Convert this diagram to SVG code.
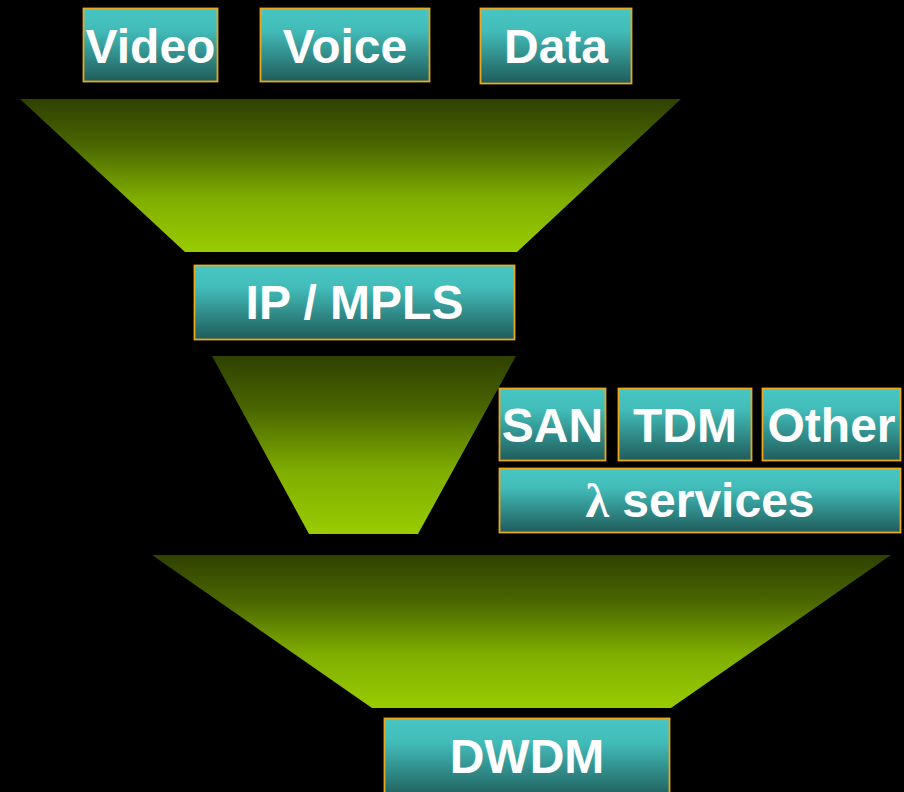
<svg xmlns="http://www.w3.org/2000/svg" width="904" height="792" viewBox="0 0 904 792">
<defs>
<linearGradient id="boxg" x1="0" y1="0" x2="0" y2="1">
<stop offset="0" stop-color="#47C6C3"/>
<stop offset="0.3" stop-color="#42BCB9"/>
<stop offset="1" stop-color="#1F5C5A"/>
</linearGradient>
<linearGradient id="fung" x1="0" y1="0" x2="0" y2="1">
<stop offset="0" stop-color="#2F4100"/>
<stop offset="0.3" stop-color="#4A6600"/>
<stop offset="0.65" stop-color="#80AE00"/>
<stop offset="1" stop-color="#99CC00"/>
</linearGradient>
<style>
.box{fill:url(#boxg);stroke:#E8A820;stroke-width:1.8}
.fun{fill:url(#fung)}
.t{font-family:"Liberation Sans",Arial,sans-serif;font-weight:bold;font-size:48px;fill:#FFFFFF;text-anchor:middle}
</style>
</defs>
<rect width="904" height="792" fill="#000000"/>
<g id="funnels">
<polygon class="fun" points="20,99 681,99 517,252 185,252"/>
<polygon class="fun" points="212,356 516,356 418,534 309,534"/>
<polygon class="fun" points="152,555 891,555 671,708 372,708"/>
</g>
<g id="video"><rect class="box" x="83.5" y="8.5" width="134" height="73"/><text class="t" x="150.5" y="63">Video</text></g>
<g id="voice"><rect class="box" x="260.5" y="8.5" width="169" height="73"/><text class="t" x="345" y="63">Voice</text></g>
<g id="data"><rect class="box" x="480.5" y="8.5" width="151" height="75"/><text class="t" x="556" y="63">Data</text></g>
<g id="ipmpls"><rect class="box" x="194.5" y="265.5" width="320" height="74"/><text class="t" x="354.5" y="319">IP / MPLS</text></g>
<g id="san"><rect class="box" x="499.5" y="388.5" width="106" height="72"/><text class="t" x="552.5" y="442">SAN</text></g>
<g id="tdm"><rect class="box" x="618.5" y="388.5" width="133" height="72"/><text class="t" x="685" y="442">TDM</text></g>
<g id="other"><rect class="box" x="762.5" y="388.5" width="138" height="72"/><text class="t" x="831.5" y="442">Other</text></g>
<g id="lambda"><rect class="box" x="499.5" y="468.5" width="401" height="64"/><text class="t" x="700" y="517"><tspan font-family="'Liberation Serif','Times New Roman',serif" font-weight="bold">λ</tspan> services</text></g>
<g id="dwdm"><rect class="box" x="384.5" y="718.5" width="285" height="80"/><text class="t" x="527" y="773">DWDM</text></g>
<g id="connectors"></g>
</svg>
